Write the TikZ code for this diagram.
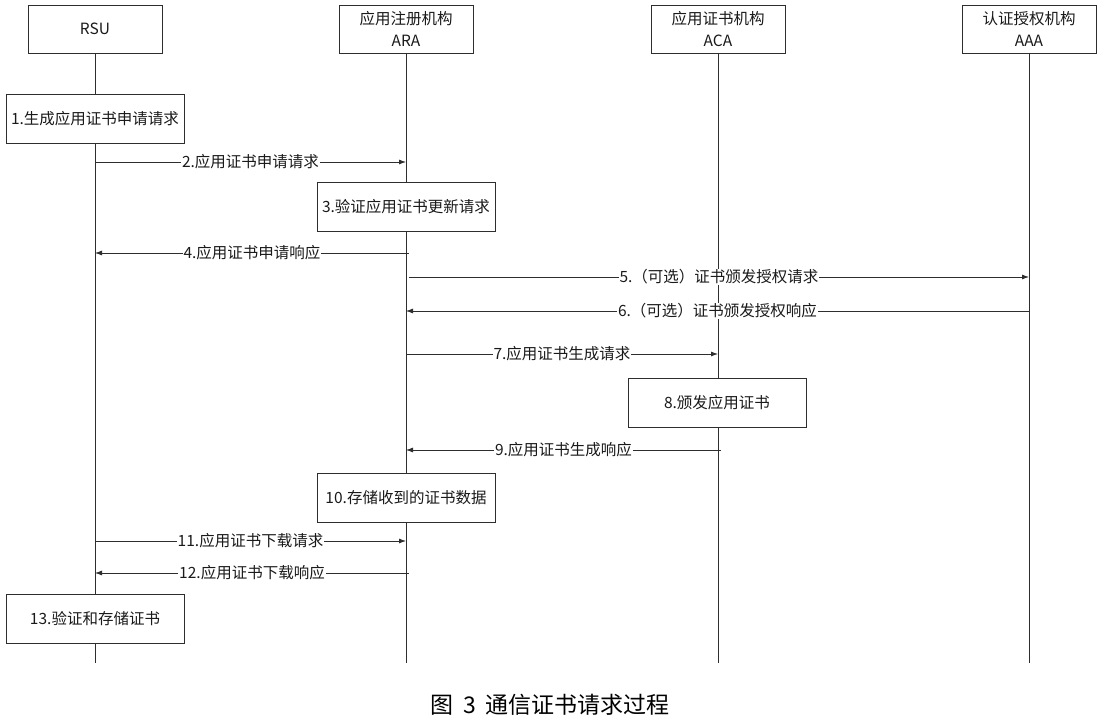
\documentclass[tikz,border=0pt]{standalone}
\usepackage{fontspec}
\setmainfont{Noto Sans CJK SC}
\usetikzlibrary{arrows.meta}
\definecolor{linec}{HTML}{2E2E2E}
\definecolor{textc}{HTML}{1A1A1A}
\begin{document}
\begin{tikzpicture}[x=1pt,y=-1pt,
  txt/.style={font=\fontsize{15.5}{22}\selectfont, text=textc},
  actor/.style={txt, draw=linec, line width=0.9pt, fill=white, minimum width=134pt, minimum height=48pt, inner sep=0pt, align=center},
  act/.style={txt, draw=linec, line width=0.9pt, fill=white, minimum width=178pt, minimum height=49pt, inner sep=0pt},
  life/.style={draw=linec, line width=0.8pt},
  msg/.style={draw=linec, line width=0.8pt, -{Latex[length=7pt,width=5pt]}},
  lbl/.style={txt, fill=white, inner sep=1pt}
]
\useasboundingbox (0,0) rectangle (1101,719);
\fill[white] (0,0) rectangle (1101,719);

% lifeline ends
\coordinate (rE) at (95,663);
\coordinate (aE) at (406,663);
\coordinate (cE) at (718,663);
\coordinate (xE) at (1029,663);

% actors
\node[actor] (rsu) at (95,29) {RSU};
\node[actor] (ara) at (406,29) {应用注册机构\\ARA};
\node[actor] (aca) at (718,29) {应用证书机构\\ACA};
\node[actor] (aaa) at (1029,29) {认证授权机构\\AAA};

% lifelines
\draw[life] (rsu.south) -- (rE);
\draw[life] (ara.south) -- (aE);
\draw[life] (aca.south) -- (cE);
\draw[life] (aaa.south) -- (xE);

% activity boxes
\node[act] (s1) at (95,118.5) {1.生成应用证书申请请求};
\node[act] (s3) at (406,207) {3.验证应用证书更新请求};
\node[act] (s8) at (717,403) {8.颁发应用证书};
\node[act] (s10) at (406,497.5) {10.存储收到的证书数据};
\node[act] (s13) at (95,618.5) {13.验证和存储证书};

% message end points
\coordinate (m2a) at (95,162);   \coordinate (m2b) at (406,162);
\coordinate (m4a) at (409,253);  \coordinate (m4b) at (95,253);
\coordinate (m5a) at (409,277);  \coordinate (m5b) at (1029,277);
\coordinate (m6a) at (1029,311); \coordinate (m6b) at (406,311);
\coordinate (m7a) at (406,354);  \coordinate (m7b) at (718,354);
\coordinate (m9a) at (721,450);  \coordinate (m9b) at (406,450);
\coordinate (m11a) at (95,541);  \coordinate (m11b) at (406,541);
\coordinate (m12a) at (409,573); \coordinate (m12b) at (95,573);

\draw[msg] (m2a) -- node[lbl] {2.应用证书申请请求} (m2b);
\draw[msg] (m4a) -- node[lbl] {4.应用证书申请响应} (m4b);
\draw[msg] (m5a) -- node[lbl] {5.（可选）证书颁发授权请求} (m5b);
\draw[msg] (m6a) -- node[lbl] {6.（可选）证书颁发授权响应} (m6b);
\draw[msg] (m7a) -- node[lbl] {7.应用证书生成请求} (m7b);
\draw[msg] (m9a) -- node[lbl] {9.应用证书生成响应} (m9b);
\draw[msg] (m11a) -- node[lbl] {11.应用证书下载请求} (m11b);
\draw[msg] (m12a) -- node[lbl] {12.应用证书下载响应} (m12b);

% caption
\node[font=\fontsize{23}{27}\selectfont, text=black] (cap) at (550,705) {图\hspace{10pt}3\hspace{10pt}通信证书请求过程};
\end{tikzpicture}
\end{document}
